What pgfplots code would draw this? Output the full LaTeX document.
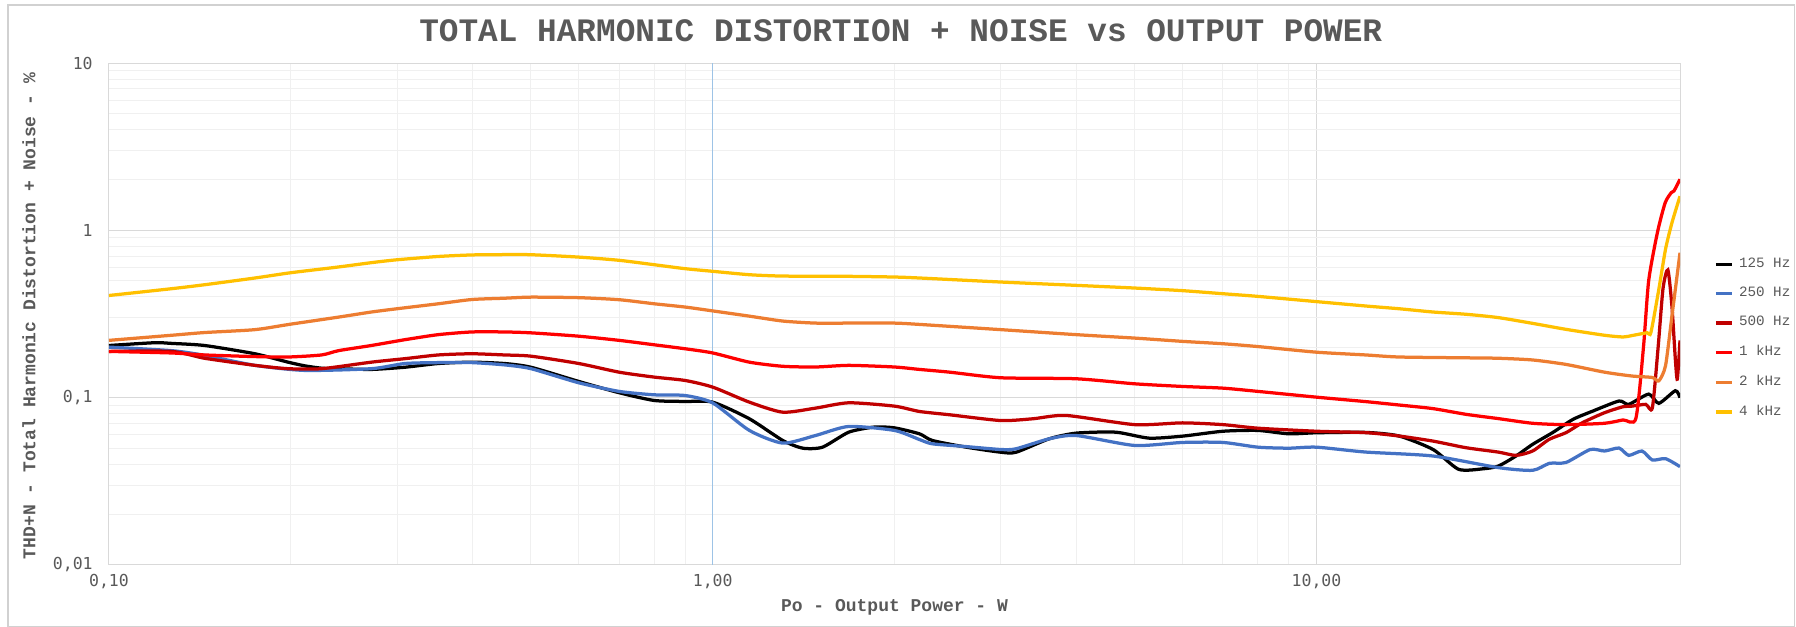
\documentclass[border=0pt]{standalone}
\usepackage{pgfplots}
\pgfplotsset{compat=1.18}
\usepackage{fontspec}
\setmainfont{Liberation Mono}
\newfontfamily\tickfont{DejaVu Sans Mono}
\definecolor{txt}{HTML}{595959}
\definecolor{c125}{HTML}{000000}
\definecolor{c250}{HTML}{4472C4}
\definecolor{c500}{HTML}{C00000}
\definecolor{c1k}{HTML}{FF0000}
\definecolor{c2k}{HTML}{ED7D31}
\definecolor{c4k}{HTML}{FFC000}
\definecolor{vline}{HTML}{9DC3E6}
\begin{document}
\begin{tikzpicture}
\begin{axis}[
  scale only axis,
  width=628.4pt, height=200.8pt,
  xmode=log, ymode=log,
  xmin=0.1, xmax=40, ymin=0.01, ymax=10,
  xtick={0.1,1,10}, xticklabels={{0,10},{1,00},{10,00}},
  ytick={0.01,0.1,1,10}, yticklabels={{0,01},{0,1},1,10},
  major tick length=0pt, minor tick length=0pt,
  grid=both,
  major grid style={draw=black!15, line width=0.4pt},
  minor grid style={draw=black!6, line width=0.4pt},
  axis line style={draw=black!15},
  ticklabel style={font=\tickfont\fontsize{6.6}{7}\selectfont, text=txt},
  xticklabel style={yshift=0pt},
  yticklabel style={xshift=-3pt},
  title={\bfseries TOTAL HARMONIC DISTORTION + NOISE vs OUTPUT POWER},
  every axis title/.style={font=\fontsize{13.1}{14}\selectfont, text=txt, at={(axis description cs:0.504,1.0637)}, anchor=center},
  xlabel={\bfseries Po - Output Power - W},
  every axis x label/.style={font=\fontsize{7.2}{8}\selectfont, text=txt, at={(axis description cs:0.5,-0.0837)}, anchor=center},
  ylabel={\bfseries THD+N - Total Harmonic Distortion + Noise - \%},
  every axis y label/.style={font=\fontsize{7.2}{8}\selectfont, text=txt, at={(axis description cs:-0.0509,0.496)}, anchor=center, rotate=90},
  legend style={at={(1.0215,0.451)}, anchor=west, draw=none, fill=none, font=\fontsize{5.7}{6}\selectfont, text=txt, row sep=2.3pt, inner sep=0pt},
  legend cell align=left,
  legend image code/.code={\draw[#1, line width=1.3pt] (0pt,0pt) -- (6.6pt,0pt);},
  every axis plot/.append style={line width=1.3pt, smooth, tension=0.4},
]
\addplot[vline, line width=0.5pt, forget plot, sharp plot] coordinates {(1,0.01) (1,10)};
\addplot[c125] coordinates {(0.100,0.205)(0.119,0.213)(0.127,0.211)(0.144,0.205)(0.1745,0.183)(0.198,0.163)(0.211,0.155)(0.225,0.150)(0.240,0.149)(0.272,0.1475)(0.309,0.152)(0.351,0.160)(0.399,0.163)(0.452,0.160)(0.5,0.152)(0.6,0.125)(0.7,0.107)(0.8,0.0962)(0.9,0.0949)(1.0,0.094)(1.15,0.0748)(1.306,0.0555)(1.41,0.0499)(1.52,0.0506)(1.68,0.0622)(1.85,0.0667)(2.0,0.066)(2.2,0.0608)(2.31,0.0555)(2.63,0.0506)(3.0,0.0472)(3.18,0.0472)(3.61,0.0568)(4.0,0.0614)(4.65,0.0622)(5.28,0.0573)(6,0.0589)(7,0.063)(8,0.0637)(9,0.0608)(10,0.0617)(12.07,0.062)(13.7,0.059)(15.6,0.049)(17.2,0.0373)(18.9,0.0376)(20,0.039)(21.4,0.0448)(22.8,0.0526)(24.6,0.0618)(26.6,0.0742)(28.7,0.0832)(31.7,0.0955)(32.9,0.0912)(35.5,0.105)(36.9,0.0925)(39.3,0.11)(40,0.1)};
\addlegendentry{125 Hz}
\addplot[c250] coordinates {(0.100,0.2005)(0.127,0.191)(0.144,0.179)(0.1745,0.156)(0.211,0.1455)(0.272,0.149)(0.309,0.160)(0.351,0.162)(0.399,0.162)(0.452,0.157)(0.5,0.149)(0.6,0.1227)(0.7,0.109)(0.8,0.104)(0.9,0.103)(1.0,0.093)(1.15,0.0637)(1.306,0.0535)(1.48,0.0594)(1.68,0.0673)(2.0,0.0637)(2.2,0.0562)(2.31,0.053)(2.63,0.051)(3.0,0.049)(3.18,0.0495)(3.61,0.0568)(4.0,0.0594)(5.0,0.0518)(6,0.054)(7,0.054)(8,0.0506)(9,0.0499)(10,0.0506)(12.07,0.0473)(15.6,0.0448)(20,0.0382)(22.8,0.0368)(24.3,0.0405)(25.9,0.041)(28.4,0.049)(30,0.048)(31.7,0.05)(32.9,0.0452)(34.6,0.048)(36,0.0424)(37.85,0.0432)(40,0.0387)};
\addlegendentry{250 Hz}
\addplot[c500] coordinates {(0.100,0.189)(0.127,0.189)(0.144,0.172)(0.1745,0.156)(0.198,0.149)(0.225,0.149)(0.272,0.163)(0.309,0.171)(0.351,0.180)(0.399,0.183)(0.452,0.180)(0.5,0.177)(0.6,0.160)(0.7,0.142)(0.8,0.1327)(0.9,0.1267)(1.0,0.1156)(1.15,0.094)(1.306,0.0819)(1.48,0.0866)(1.68,0.0932)(2.0,0.089)(2.2,0.0827)(2.47,0.079)(3.0,0.073)(3.39,0.0748)(3.85,0.0783)(5.0,0.069)(6,0.0707)(7,0.069)(8,0.0657)(10,0.063)(12.07,0.0618)(13.7,0.059)(15.6,0.055)(17.7,0.0502)(20,0.0473)(21.4,0.0452)(22.8,0.048)(24.3,0.0564)(25.9,0.0618)(27.6,0.071)(30,0.0813)(32.2,0.0883)(33.3,0.089)(35.1,0.0912)(36.0,0.087)(36.8,0.2)(37.5,0.45)(38.2,0.58)(38.8,0.35)(39.3,0.17)(39.6,0.129)(40,0.22)};
\addlegendentry{500 Hz}
\addplot[c1k] coordinates {(0.100,0.189)(0.127,0.185)(0.144,0.180)(0.1745,0.176)(0.198,0.175)(0.225,0.180)(0.24,0.191)(0.272,0.205)(0.309,0.222)(0.351,0.238)(0.399,0.247)(0.452,0.247)(0.5,0.244)(0.6,0.233)(0.7,0.22)(0.8,0.207)(0.9,0.196)(1.0,0.185)(1.15,0.163)(1.306,0.154)(1.48,0.1525)(1.68,0.156)(2.0,0.1525)(2.2,0.1475)(2.47,0.142)(3.0,0.1315)(4.0,0.1297)(5.0,0.121)(6,0.1167)(7,0.114)(8,0.109)(10,0.1007)(12.07,0.0947)(13.7,0.0904)(15.6,0.086)(17.7,0.0795)(20,0.075)(22.8,0.0703)(25.9,0.069)(30,0.0703)(32.2,0.0736)(33.8,0.075)(34.8,0.2)(35.5,0.5)(36.7,0.97)(37.8,1.46)(38.7,1.68)(39.1,1.72)(40,2.02)};
\addlegendentry{1 kHz}
\addplot[c2k] coordinates {(0.100,0.22)(0.127,0.236)(0.144,0.245)(0.1745,0.255)(0.2,0.275)(0.24,0.303)(0.272,0.325)(0.3,0.34)(0.351,0.364)(0.399,0.386)(0.452,0.393)(0.5,0.399)(0.6,0.396)(0.7,0.385)(0.8,0.364)(0.9,0.348)(1.0,0.33)(1.15,0.307)(1.306,0.287)(1.48,0.279)(1.68,0.279)(2.0,0.279)(2.2,0.274)(3.0,0.255)(4.0,0.238)(5.0,0.227)(6,0.217)(7,0.21)(8,0.202)(10,0.187)(12.07,0.18)(13.7,0.175)(17.7,0.173)(20,0.172)(22.8,0.168)(25.9,0.158)(30,0.142)(33.3,0.1347)(36,0.132)(36.9,0.126)(37.85,0.155)(38.8,0.308)(40,0.735)};
\addlegendentry{2 kHz}
\addplot[c4k] coordinates {(0.100,0.408)(0.127,0.448)(0.144,0.473)(0.1745,0.519)(0.2,0.558)(0.24,0.604)(0.272,0.641)(0.3,0.667)(0.351,0.698)(0.4,0.713)(0.452,0.716)(0.5,0.715)(0.6,0.692)(0.7,0.662)(0.8,0.623)(0.9,0.59)(1.0,0.569)(1.15,0.543)(1.306,0.533)(1.68,0.531)(2.0,0.526)(2.2,0.519)(3.0,0.491)(4.0,0.469)(5.0,0.452)(6,0.436)(7,0.418)(8,0.403)(10,0.375)(12.07,0.353)(13.7,0.34)(15.6,0.325)(17.7,0.315)(20,0.301)(22.8,0.278)(25.9,0.256)(30,0.236)(32.2,0.2305)(33.3,0.235)(35.3,0.2445)(35.8,0.245)(36.9,0.444)(37.85,0.77)(38.8,1.11)(40,1.6)};
\addlegendentry{4 kHz}
\end{axis}
\draw[black!18, line width=0.5pt] (-40.4pt,-24.5pt) rectangle (674.2pt,224pt);
\pgfresetboundingbox
\path[use as bounding box] (-43.6pt,-24.8pt) rectangle (674.8pt,226pt);
\end{tikzpicture}
\end{document}
